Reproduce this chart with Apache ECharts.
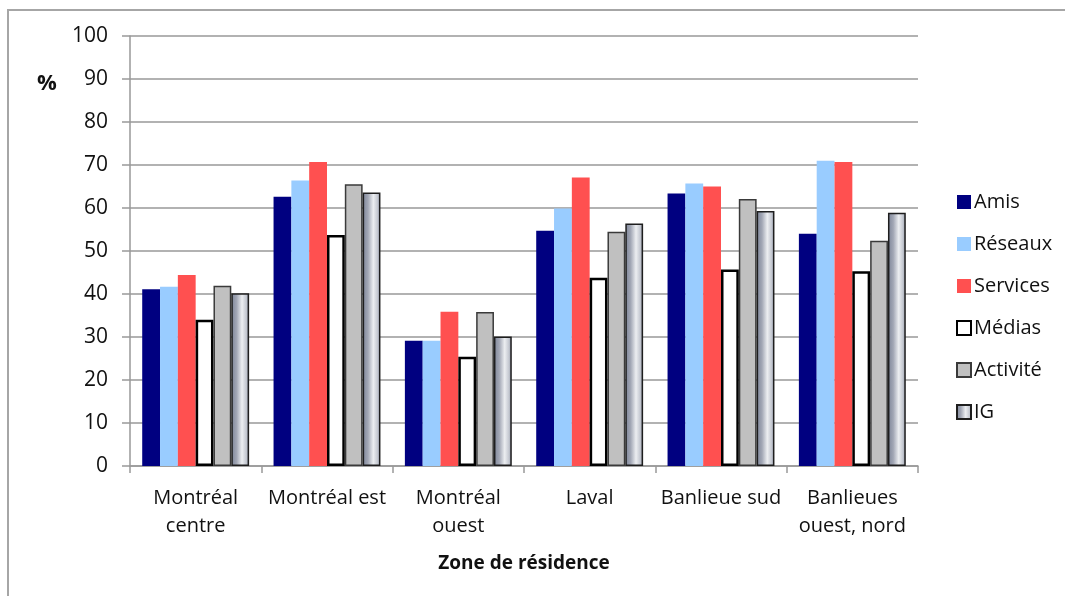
<!DOCTYPE html>
<html>
<head>
<meta charset="utf-8">
<script src="https://cdn.jsdelivr.net/npm/echarts@6/dist/echarts.min.js"></script>
<style>
  html, body { margin: 0; padding: 0; background: #fff; }
  #chart { width: 1065px; height: 596px; }
</style>
</head>
<body>
<div id="chart"></div>
<script>
// Zones de résidence (catégories de l'axe horizontal)
const zones = ['Montréal\ncentre', 'Montréal est', 'Montréal\nouest', 'Laval', 'Banlieue sud', 'Banlieues\nouest, nord'];

// Pourcentages par source d'information
const amis      = [41.1, 62.6, 29.1, 54.7, 63.4, 54.0];
const reseaux   = [41.7, 66.4, 29.1, 59.9, 65.7, 71.0];
const services  = [44.4, 70.7, 35.9, 67.1, 65.0, 70.7];
const medias    = [34.0, 53.7, 25.4, 43.8, 45.7, 45.3];
const activite  = [41.9, 65.5, 35.8, 54.5, 62.1, 52.4];
const ig        = [40.2, 63.6, 30.1, 56.4, 59.3, 58.9];

const yTicks = { min: 0, max: 100, step: 10 };

const font = '"Open Sans", "Noto Sans", sans-serif';

// Remplissage dégradé (effet métallique) de la série IG
const igFill = {
  type: 'linear', x: 0, y: 0, x2: 1, y2: 0,
  colorStops: [
    { offset: 0,    color: '#7d8599' },
    { offset: 0.3,  color: '#a2a7b5' },
    { offset: 0.6,  color: '#eceef1' },
    { offset: 0.85, color: '#c2c6cf' },
    { offset: 1,    color: '#8a91a2' }
  ]
};

function bar(name, data, itemStyle) {
  return {
    name: name,
    type: 'bar',
    data: data,
    barGap: '0%',
    barCategoryGap: '18.6%',
    itemStyle: itemStyle,
    emphasis: { disabled: true }
  };
}

const chart = echarts.init(document.getElementById('chart'), null, { renderer: 'canvas' });

chart.setOption({
  animation: false,
  backgroundColor: '#ffffff',
  graphic: [
    {
      type: 'rect',
      shape: { x: 8, y: 10, width: 1200, height: 700 },
      style: { fill: 'none', stroke: '#a6a6a6', lineWidth: 2 },
      silent: true,
      z: -1
    },
    {
      type: 'text',
      left: 37,
      top: 73,
      style: { text: '%', font: 'bold 22px ' + font, fill: '#111' }
    }
  ],
  grid: { left: 130, right: 147, top: 36, bottom: 130, containLabel: false },
  legend: {
    orient: 'vertical',
    left: 951,
    top: 186,
    itemWidth: 14,
    itemHeight: 14,
    itemGap: 20,
    icon: 'rect',
    textStyle: { fontFamily: font, fontSize: 20, color: '#111', lineHeight: 22, padding: [0, 0, 0, -2] },
    data: ['Amis', 'Réseaux', 'Services', 'Médias', 'Activité', 'IG']
  },
  xAxis: {
    type: 'category',
    data: zones,
    name: 'Zone de résidence',
    nameLocation: 'middle',
    nameGap: 88,
    nameTextStyle: { fontFamily: font, fontSize: 19, fontWeight: 'bold', color: '#111' },
    axisLine: { show: true, lineStyle: { color: '#999', width: 1.5 } },
    axisTick: { show: true, interval: 0, length: 7, lineStyle: { color: '#999', width: 1.5 } },
    axisLabel: {
      interval: 0,
      margin: 18,
      fontFamily: font,
      fontSize: 20,
      lineHeight: 28,
      color: '#111'
    }
  },
  yAxis: {
    type: 'value',
    min: yTicks.min,
    max: yTicks.max,
    interval: yTicks.step,
    axisLine: { show: true, lineStyle: { color: '#999', width: 1.5 } },
    axisTick: { show: true, length: 8, lineStyle: { color: '#999', width: 1.5 } },
    axisLabel: { margin: 22, fontFamily: font, fontSize: 21, color: '#111' },
    splitLine: { show: true, lineStyle: { color: '#999', width: 1.5 } }
  },
  series: [
    bar('Amis', amis, { color: '#000080' }),
    bar('Réseaux', reseaux, { color: '#99ccff' }),
    bar('Services', services, { color: '#ff5050' }),
    bar('Médias', medias, { color: '#ffffff', borderColor: '#000000', borderWidth: 2.5 }),
    bar('Activité', activite, { color: '#c0c0c0', borderColor: '#3a3a3a', borderWidth: 1.5 }),
    bar('IG', ig, { color: igFill, borderColor: '#1e1e1e', borderWidth: 1.5 })
  ]
});
</script>
</body>
</html>
